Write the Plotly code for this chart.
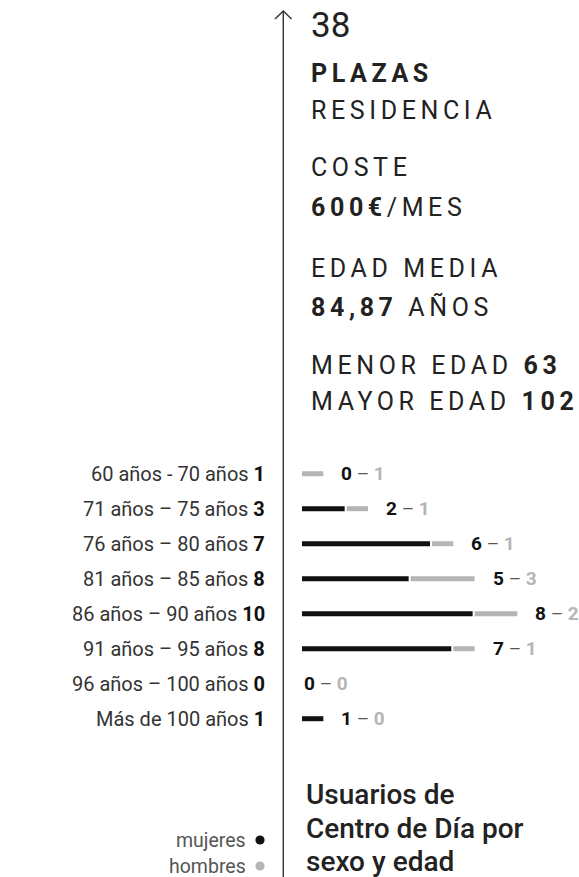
import plotly.graph_objects as go

# ---------------- data ----------------
categories = ["60 años - 70 años", "71 años – 75 años", "76 años – 80 años",
              "81 años – 85 años", "86 años – 90 años", "91 años – 95 años",
              "96 años – 100 años", "Más de 100 años"]
totales = [1, 3, 7, 8, 10, 8, 0, 1]
mujeres = [0, 2, 6, 5, 8, 7, 0, 1]
hombres = [1, 1, 1, 3, 2, 1, 0, 0]

plazas = "38"
coste = "600€"
edad_media = "84,87"
menor_edad = "63"
mayor_edad = "102"

legend_labels = ["mujeres", "hombres"]

# ---------------- layout constants ----------------
W, H = 579, 877
PX_UNIT = 21.33          # pixels per person
X0_PX = 302              # pixel of value 0
ROW0_PX = 473.7          # pixel of first row centre
ROW_STEP = 35.0          # pixels between rows
GAP_UNITS = 2 / PX_UNIT
LABEL_GAP = 16 / PX_UNIT
BAR_W = 5 / ROW_STEP

BLACK = "#111111"
GREY = "#b5b5b5"
TXT = "#222222"
FONT = "Roboto"
SP = "letter-spacing:4.6px"

fig = go.Figure()

fig.add_trace(go.Bar(
    y=categories, x=mujeres, base=[0] * len(mujeres), orientation="h",
    width=BAR_W, marker=dict(color=BLACK, line=dict(width=0)),
    name="mujeres", hoverinfo="skip"))

base_h = [m + GAP_UNITS if m > 0 else 0 for m in mujeres]
fig.add_trace(go.Bar(
    y=categories, x=hombres, base=base_h, orientation="h",
    width=BAR_W, marker=dict(color=GREY, line=dict(width=0)),
    name="hombres", hoverinfo="skip"))

ann = []
# bar-end labels and category labels
for cat, t, m, h, b in zip(categories, totales, mujeres, hombres, base_h):
    end = b + h if h > 0 else m
    xl = end + LABEL_GAP if end > 0 else 0
    ann.append(dict(
        x=xl, y=cat, xref="x", yref="y", xanchor="left", yanchor="middle",
        showarrow=False, align="left",
        text=f"<b>{m}</b> <span style='color:#555'>–</span> <b><span style='color:{GREY}'>{h}</span></b>",
        font=dict(family=FONT, size=19, color=BLACK)))
    ann.append(dict(
        x=267 / W, y=cat, xref="paper", yref="y", xanchor="right", yanchor="middle",
        showarrow=False, align="right",
        text=f"{cat} <b><span style='color:{BLACK}'>{t}</span></b>",
        font=dict(family=FONT, size=20, color="#333333")))

def top_text(text, ypx, size=25, xpx=309, weight=None):
    f = dict(family=FONT, size=size, color=TXT)
    if weight:
        f["weight"] = weight
    ann.append(dict(x=xpx / W, y=1 - ypx / H, xref="paper", yref="paper",
                    xanchor="left", yanchor="middle", showarrow=False,
                    align="left", text=text, font=f))

top_text(plazas, 25.5, size=35)
top_text(f"<span style='{SP}'><b>PLAZAS</b></span>", 73.5)
top_text(f"<span style='{SP}'>RESIDENCIA</span>", 110.5)
top_text(f"<span style='{SP}'>COSTE</span>", 168)
top_text(f"<span style='{SP}'><b>{coste}</b>/MES</span>", 207)
top_text(f"<span style='{SP}'>EDAD MEDIA</span>", 268)
top_text(f"<span style='{SP}'><b>{edad_media}</b> AÑOS</span>", 307)
top_text(f"<span style='{SP}'>MENOR EDAD <b>{menor_edad}</b></span>", 365)
top_text(f"<span style='{SP}'>MAYOR EDAD <b>{mayor_edad}</b></span>", 401)

# bottom title
top_text("Usuarios de", 794, size=28, xpx=304, weight=500)
top_text("Centro de Día por", 828, size=28, xpx=304, weight=500)
top_text("sexo y edad", 861, size=28, xpx=304, weight=500)

# legend-like labels with dots
shapes = []
for lab, col, ypx in zip(legend_labels, [BLACK, GREY], [840, 866]):
    ann.append(dict(x=247 / W, y=1 - ypx / H, xref="paper", yref="paper",
                    xanchor="right", yanchor="middle", showarrow=False, align="right",
                    borderpad=0, text=lab,
                    font=dict(family=FONT, size=19.5, color="#555555")))
    r = 4.6
    shapes.append(dict(type="circle", xref="paper", yref="paper",
                       x0=(260 - r) / W, x1=(260 + r) / W,
                       y0=1 - (ypx + r) / H, y1=1 - (ypx - r) / H,
                       fillcolor=col, line=dict(width=0)))

# axis line with open arrow head
lx = 283.3 / W
shapes += [
    dict(type="line", xref="paper", yref="paper", x0=lx, x1=lx, y0=0, y1=1 - 11 / H,
         line=dict(color="#333333", width=1.4)),
    dict(type="path", xref="paper", yref="paper",
         path=f"M {275/W} {1-19/H} L {lx} {1-11/H} L {291.5/W} {1-19/H}",
         line=dict(color="#333333", width=1.4)),
]

fig.update_layout(
    width=W, height=H, margin=dict(l=0, r=0, t=0, b=0),
    paper_bgcolor="white", plot_bgcolor="white",
    showlegend=False, barmode="overlay",
    xaxis=dict(range=[-X0_PX / PX_UNIT, (W - X0_PX) / PX_UNIT], visible=False,
               fixedrange=True),
    yaxis=dict(type="category", categoryorder="array", categoryarray=categories,
               range=[(H - ROW0_PX) / ROW_STEP, -ROW0_PX / ROW_STEP],
               visible=False, fixedrange=True),
    annotations=ann, shapes=shapes,
)

fig.write_html("out.html", config={"displayModeBar": False},
               post_script="document.body.style.margin='0';document.body.style.overflow='hidden';")
